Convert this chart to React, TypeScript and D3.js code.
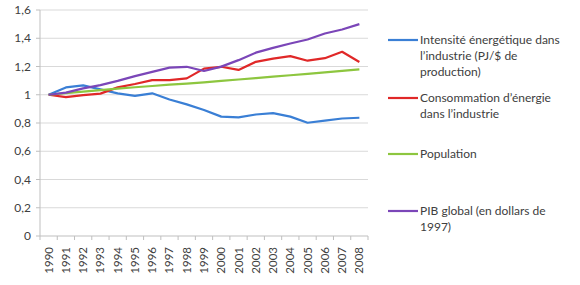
import React from "react";
import * as d3 from "d3";

const years = ["1990","1991","1992","1993","1994","1995","1996","1997","1998","1999","2000","2001","2002","2003","2004","2005","2006","2007","2008"];
const intensite = [1.0,1.052,1.066,1.038,1.01,0.992,1.01,0.966,0.932,0.892,0.845,0.84,0.86,0.87,0.845,0.802,0.817,0.832,0.837];
const consommation = [1.0,0.983,0.997,1.008,1.052,1.076,1.104,1.104,1.116,1.185,1.198,1.176,1.233,1.256,1.273,1.241,1.259,1.304,1.232];
const population = [1.0,1.011,1.022,1.033,1.043,1.053,1.062,1.071,1.079,1.088,1.098,1.108,1.118,1.128,1.138,1.148,1.158,1.169,1.18];
const pib = [1.0,1.015,1.045,1.068,1.098,1.132,1.162,1.192,1.198,1.168,1.199,1.245,1.298,1.332,1.363,1.391,1.434,1.462,1.5];
const yTicks = [0,0.2,0.4,0.6,0.8,1,1.2,1.4,1.6];

const series = [
  { name: ["Intensité énergétique dans", "l’industrie (PJ/$ de", "production)"], values: intensite, color: "#3a7fd5", ly: 40 },
  { name: ["Consommation d’énergie", "dans l’industrie"], values: consommation, color: "#e02828", ly: 98 },
  { name: ["Population"], values: population, color: "#8dc63f", ly: 154 },
  { name: ["PIB global (en dollars de", "1997)"], values: pib, color: "#7b46b8", ly: 211 },
];

export default function App() {
  const x = d3.scaleBand().domain(years).range([40, 368]);
  const y = d3.scaleLinear().domain([0, 1.6]).range([236, 10]);
  const line = d3.line<number>().x((_, i) => (x(years[i]) as number) + x.bandwidth() / 2).y((d) => y(d));
  const font = "Lato, 'Open Sans', sans-serif";
  const fmt = (v: number) => (v === 0 || v === 1 ? String(v) : v.toFixed(1).replace(".", ","));
  return (
    <svg width={580} height={285} style={{ position: "absolute", left: 0, top: 0 }} fontFamily={font}>
      <rect width={580} height={285} fill="#fff" />
      {yTicks.map((t) => (
        <g key={t}>
          {t > 0 && <line x1={40} x2={368} y1={y(t)} y2={y(t)} stroke="#d9d9d9" strokeWidth={1} />}
          <line x1={36} x2={40} y1={y(t)} y2={y(t)} stroke="#bfbfbf" />
          <text x={31} y={y(t)} dy="0.35em" textAnchor="end" fontSize={12} fill="#404040">{fmt(t)}</text>
        </g>
      ))}
      <line x1={40} x2={40} y1={10} y2={236} stroke="#bfbfbf" />
      <line x1={40} x2={368} y1={236} y2={236} stroke="#bfbfbf" />
      {years.map((yr, i) => (
        <line key={"t" + yr} x1={40 + i * x.step()} x2={40 + i * x.step()} y1={236} y2={240} stroke="#bfbfbf" />
      ))}
      <line x1={368} x2={368} y1={236} y2={240} stroke="#bfbfbf" />
      {years.map((yr) => {
        const cx = (x(yr) as number) + x.bandwidth() / 2;
        return (
          <text key={yr} transform={`translate(${cx + 4},247) rotate(-90)`} textAnchor="end" fontSize={11.5} fill="#404040">{yr}</text>
        );
      })}
      {series.map((s) => (
        <path key={s.color} d={line(s.values) || ""} fill="none" stroke={s.color} strokeWidth={2.2} strokeLinejoin="round" />
      ))}
      {series.map((s) => (
        <g key={"l" + s.color}>
          <line x1={388} x2={418} y1={s.ly} y2={s.ly} stroke={s.color} strokeWidth={2.2} />
          {s.name.map((n, j) => (
            <text key={j} x={420} y={s.ly + j * 16} dy="0.35em" fontSize={12} fill="#404040">{n}</text>
          ))}
        </g>
      ))}
    </svg>
  );
}
